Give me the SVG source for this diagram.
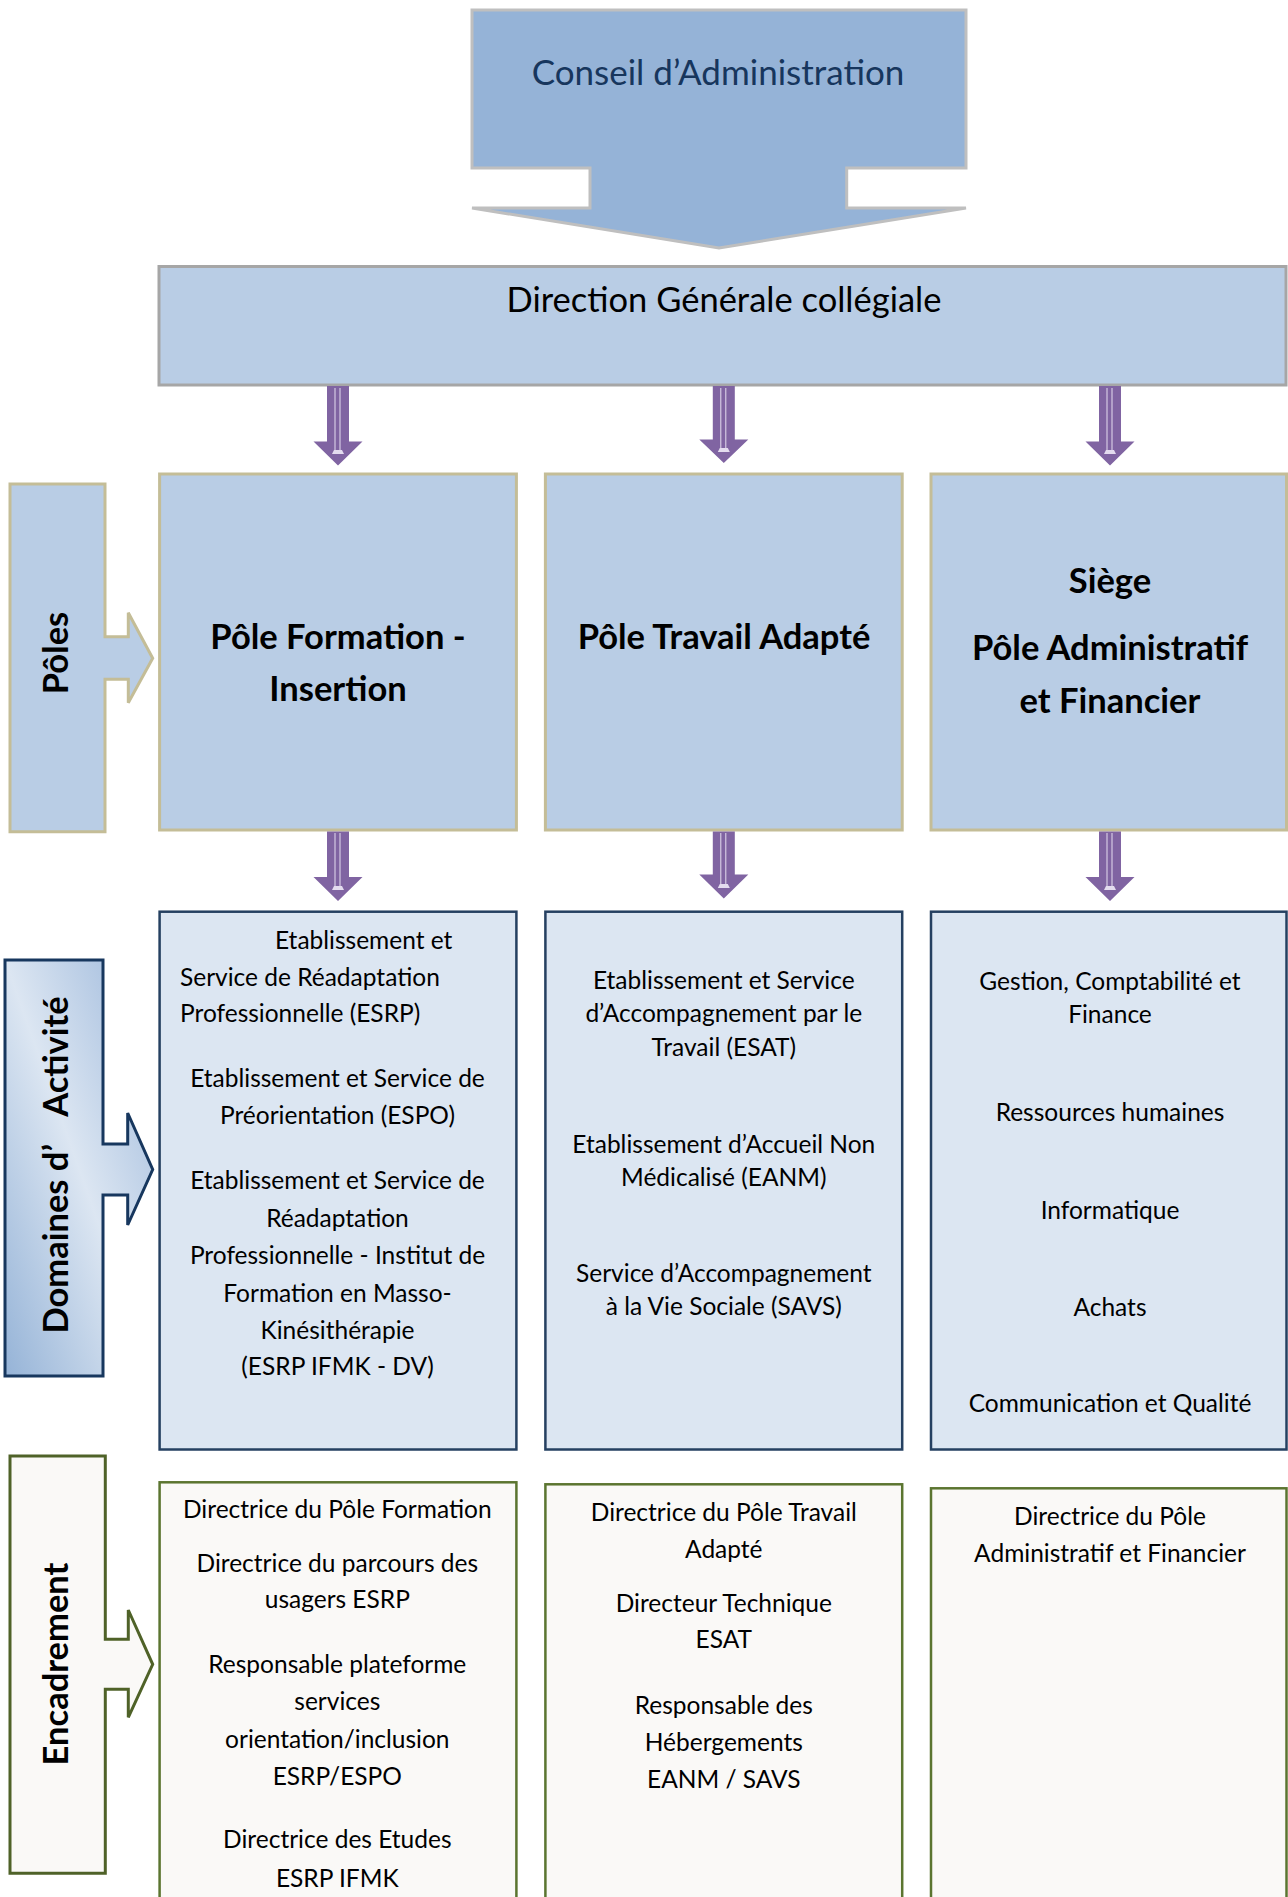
<svg xmlns="http://www.w3.org/2000/svg" width="1288" height="1897" viewBox="0 0 1288 1897">
<defs>
<style>
.t{font-family:Lato,"Liberation Sans",sans-serif;font-size:24.5px;fill:#000;text-anchor:middle}
.ts{font-family:Lato,"Liberation Sans",sans-serif;font-size:24.5px;fill:#000;text-anchor:start}
.b{font-family:Lato,"Liberation Sans",sans-serif;font-size:34.5px;font-weight:bold;fill:#000;text-anchor:middle}
.pole{fill:#b9cde5;stroke:#c4bd97;stroke-width:3}
.act{fill:#dce6f2;stroke:#254061;stroke-width:2.5}
.enc{fill:#faf9f7;stroke:#5b7530;stroke-width:2.5}
.arr{fill:#8064a2}
.arl{stroke:#e4dcef;stroke-width:1;fill:none}
.arm{fill:#e4dcef}
</style>
<linearGradient id="gDom" x1="1" y1="0" x2="0" y2="1">
<stop offset="0" stop-color="#9ab6da"/>
<stop offset="0.5" stop-color="#dce6f2"/>
<stop offset="1" stop-color="#95b3d7"/>
</linearGradient>
</defs>

<g id="conseil">
<path d="M472,10 H966 V168 H846.7 V208 H966 L719,248 L472,208 H590 V168 H472 Z" fill="#95b3d7" stroke="#bfbfbf" stroke-width="3"/>
<text x="718" y="85" font-family="Lato,'Liberation Sans',sans-serif" font-size="35" fill="#17365d" text-anchor="middle">Conseil d’Administration</text>
</g>

<g id="direction">
<rect x="159" y="266.5" width="1127" height="118.5" fill="#b9cde5" stroke="#a6a6a6" stroke-width="3"/>
<text x="724" y="312" font-family="Lato,'Liberation Sans',sans-serif" font-size="34.5" fill="#000" text-anchor="middle">Direction Générale collégiale</text>
</g>

<g id="label-poles">
<path d="M10,484 H105 V636.7 H128.3 V612.7 L152.7,658.3 L128.3,702.7 V679.3 H105 V831.7 H10 Z" fill="#b9cde5" stroke="#c4bd97" stroke-width="3"/>
<text class="b" transform="translate(68,653) rotate(-90)">Pôles</text>
</g>

<g id="pole-formation">
<rect class="pole" x="159.6" y="474" width="356.8" height="356"/>
<text class="b" x="338" y="649">Pôle Formation -</text>
<text class="b" x="338" y="701">Insertion</text>
</g>
<g id="pole-travail">
<rect class="pole" x="545.4" y="474" width="356.8" height="356"/>
<text class="b" x="724" y="649" font-size="35.5">Pôle Travail Adapté</text>
</g>
<g id="pole-siege">
<rect class="pole" x="931" y="474" width="355.5" height="356"/>
<text class="b" x="1110" y="593">Siège</text>
<text class="b" x="1110" y="660">Pôle Administratif</text>
<text class="b" x="1110" y="713">et Financier</text>
</g>

<g id="label-domaines">
<path d="M5,960 H103 V1144 H127.7 V1113 L152.7,1169.5 L127.7,1225 V1195 H103 V1376 H5 Z" fill="url(#gDom)" stroke="#17375e" stroke-width="3"/>
<text class="b" transform="translate(68,1165) rotate(-90)"><tspan>Domaines d’</tspan><tspan dx="20"> Activité</tspan></text>
</g>

<g id="act-formation">
<rect class="act" x="159.6" y="911.7" width="356.8" height="537.8"/>
<text class="ts" x="275" y="949">Etablissement et</text>
<text class="ts" x="180" y="986">Service de Réadaptation</text>
<text class="ts" x="180" y="1022">Professionnelle (ESRP)</text>
<text class="t" x="337.5" y="1087">Etablissement et Service de</text>
<text class="t" x="337.5" y="1124">Préorientation (ESPO)</text>
<text class="t" x="337.5" y="1188.5">Etablissement et Service de</text>
<text class="t" x="337.5" y="1226.5">Réadaptation</text>
<text class="t" x="337.5" y="1263.5">Professionnelle - Institut de</text>
<text class="t" x="337.5" y="1301.5">Formation en Masso-</text>
<text class="t" x="337.5" y="1338.5">Kinésithérapie</text>
<text class="t" x="337.5" y="1375">(ESRP IFMK - DV)</text>
</g>
<g id="act-travail">
<rect class="act" x="545.4" y="911.7" width="356.8" height="537.8"/>
<text class="t" x="723.8" y="989">Etablissement et Service</text>
<text class="t" x="723.8" y="1022">d’Accompagnement par le</text>
<text class="t" x="723.8" y="1055.5">Travail (ESAT)</text>
<text class="t" x="723.8" y="1153">Etablissement d’Accueil Non</text>
<text class="t" x="723.8" y="1186">Médicalisé (EANM)</text>
<text class="t" x="723.8" y="1282">Service d’Accompagnement</text>
<text class="t" x="723.8" y="1315">à la Vie Sociale (SAVS)</text>
</g>
<g id="act-siege">
<rect class="act" x="931" y="911.7" width="355.5" height="537.8"/>
<text class="t" x="1110" y="989.5">Gestion, Comptabilité et</text>
<text class="t" x="1110" y="1022.5">Finance</text>
<text class="t" x="1110" y="1120.5">Ressources humaines</text>
<text class="t" x="1110" y="1218.5">Informatique</text>
<text class="t" x="1110" y="1315.5">Achats</text>
<text class="t" x="1110" y="1412">Communication et Qualité</text>
</g>

<g id="label-encadrement">
<path d="M10,1456 H105.3 V1639.3 H128.3 V1610 L152.7,1664.3 L128.3,1717.3 V1689.3 H105.3 V1873.3 H10 Z" fill="#faf9f7" stroke="#4f6228" stroke-width="3"/>
<text class="b" transform="translate(68,1664) rotate(-90)">Encadrement</text>
</g>

<g id="enc-formation">
<rect class="enc" x="159.6" y="1482.3" width="356.8" height="430"/>
<text class="t" x="337.3" y="1518.3">Directrice du Pôle Formation</text>
<text class="t" x="337.3" y="1571.7">Directrice du parcours des</text>
<text class="t" x="337.3" y="1608.3">usagers ESRP</text>
<text class="t" x="337.3" y="1673.3">Responsable plateforme</text>
<text class="t" x="337.3" y="1710">services</text>
<text class="t" x="337.3" y="1748.3">orientation/inclusion</text>
<text class="t" x="337.3" y="1785">ESRP/ESPO</text>
<text class="t" x="337.3" y="1848.3">Directrice des Etudes</text>
<text class="t" x="337.3" y="1886.7">ESRP IFMK</text>
</g>
<g id="enc-travail">
<rect class="enc" x="545.4" y="1484.3" width="356.8" height="430"/>
<text class="t" x="723.8" y="1520.7">Directrice du Pôle Travail</text>
<text class="t" x="723.8" y="1558.3">Adapté</text>
<text class="t" x="723.8" y="1611.7">Directeur Technique</text>
<text class="t" x="723.8" y="1648.3">ESAT</text>
<text class="t" x="723.8" y="1714">Responsable des</text>
<text class="t" x="723.8" y="1750.7">Hébergements</text>
<text class="t" x="723.8" y="1788.3">EANM / SAVS</text>
</g>
<g id="enc-siege">
<rect class="enc" x="931" y="1488.3" width="355.5" height="430"/>
<text class="t" x="1110" y="1525">Directrice du Pôle</text>
<text class="t" x="1110" y="1561.7">Administratif et Financier</text>
</g>

<g id="connectors">
<g transform="translate(338,0)">
<path class="arr" d="M-11,386 H11 V441.5 H24.5 L0,465.5 L-24.5,441.5 H-11 Z"/>
<path class="arl" d="M-3,388 V452 M2,388 V452"/>
<path class="arm" d="M-6,454 H6 L4,450 H-4 Z"/>
</g>
<g transform="translate(723.8,0)">
<path class="arr" d="M-11,386 H11 V439.5 H24.5 L0,463 L-24.5,439.5 H-11 Z"/>
<path class="arl" d="M-3,388 V450 M2,388 V450"/>
<path class="arm" d="M-6,452 H6 L4,448 H-4 Z"/>
</g>
<g transform="translate(1110,0)">
<path class="arr" d="M-11,386 H11 V441.5 H24.5 L0,465.5 L-24.5,441.5 H-11 Z"/>
<path class="arl" d="M-3,388 V452 M2,388 V452"/>
<path class="arm" d="M-6,454 H6 L4,450 H-4 Z"/>
</g>
<g transform="translate(338,0)">
<path class="arr" d="M-11,831.5 H11 V877 H24.5 L0,901 L-24.5,877 H-11 Z"/>
<path class="arl" d="M-3,833 V888 M2,833 V888"/>
<path class="arm" d="M-6,890 H6 L4,886 H-4 Z"/>
</g>
<g transform="translate(723.8,0)">
<path class="arr" d="M-11,831.5 H11 V874.5 H24.5 L0,898.5 L-24.5,874.5 H-11 Z"/>
<path class="arl" d="M-3,833 V886 M2,833 V886"/>
<path class="arm" d="M-6,888 H6 L4,884 H-4 Z"/>
</g>
<g transform="translate(1110,0)">
<path class="arr" d="M-11,831.5 H11 V877 H24.5 L0,901 L-24.5,877 H-11 Z"/>
<path class="arl" d="M-3,833 V888 M2,833 V888"/>
<path class="arm" d="M-6,890 H6 L4,886 H-4 Z"/>
</g>
</g>
</svg>
